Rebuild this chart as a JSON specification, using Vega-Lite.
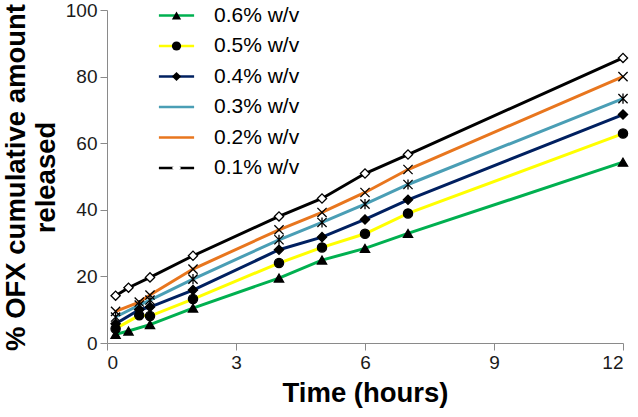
{
  "$schema": "https://vega.github.io/schema/vega-lite/v6.json",
  "width": 516,
  "height": 333,
  "autosize": "none",
  "padding": {"left": 107, "top": 10, "right": 15, "bottom": 74},
  "background": "white",
  "config": {
    "view": {"stroke": null},
    "font": "Liberation Sans",
    "axis": {"grid": false, "domainColor": "#8a8a8a", "tickColor": "#8a8a8a", "domainWidth": 1, "tickWidth": 1, "tickSize": 7, "labelFont": "Liberation Sans", "labelFontSize": 19, "labelColor": "#1a1a1a", "titleFont": "Liberation Sans", "titleFontSize": 27.5, "titleFontWeight": "bold", "titleColor": "#000000", "labelPadding": 3}
  },
  "data": {"values": [
    {"series": "0.6% w/v", "conc": 0.6, "time": 0.2, "release": 2.6},
    {"series": "0.6% w/v", "conc": 0.6, "time": 0.5, "release": 3.6},
    {"series": "0.6% w/v", "conc": 0.6, "time": 1, "release": 5.5},
    {"series": "0.6% w/v", "conc": 0.6, "time": 2, "release": 10.5},
    {"series": "0.6% w/v", "conc": 0.6, "time": 4, "release": 19.5},
    {"series": "0.6% w/v", "conc": 0.6, "time": 5, "release": 24.9},
    {"series": "0.6% w/v", "conc": 0.6, "time": 6, "release": 28.4},
    {"series": "0.6% w/v", "conc": 0.6, "time": 7, "release": 32.9},
    {"series": "0.6% w/v", "conc": 0.6, "time": 12, "release": 54.3},
    {"series": "0.5% w/v", "conc": 0.5, "time": 0.2, "release": 4.3},
    {"series": "0.5% w/v", "conc": 0.5, "time": 0.75, "release": 8.3},
    {"series": "0.5% w/v", "conc": 0.5, "time": 1, "release": 8.1},
    {"series": "0.5% w/v", "conc": 0.5, "time": 2, "release": 13.2},
    {"series": "0.5% w/v", "conc": 0.5, "time": 4, "release": 24},
    {"series": "0.5% w/v", "conc": 0.5, "time": 5, "release": 28.7},
    {"series": "0.5% w/v", "conc": 0.5, "time": 6, "release": 32.8},
    {"series": "0.5% w/v", "conc": 0.5, "time": 7, "release": 38.9},
    {"series": "0.5% w/v", "conc": 0.5, "time": 12, "release": 62.9},
    {"series": "0.4% w/v", "conc": 0.4, "time": 0.2, "release": 5.8},
    {"series": "0.4% w/v", "conc": 0.4, "time": 0.75, "release": 10},
    {"series": "0.4% w/v", "conc": 0.4, "time": 1, "release": 10.8},
    {"series": "0.4% w/v", "conc": 0.4, "time": 2, "release": 15.9},
    {"series": "0.4% w/v", "conc": 0.4, "time": 4, "release": 28},
    {"series": "0.4% w/v", "conc": 0.4, "time": 5, "release": 31.8},
    {"series": "0.4% w/v", "conc": 0.4, "time": 6, "release": 37.1},
    {"series": "0.4% w/v", "conc": 0.4, "time": 7, "release": 43},
    {"series": "0.4% w/v", "conc": 0.4, "time": 12, "release": 68.6},
    {"series": "0.3% w/v", "conc": 0.3, "time": 0.2, "release": 7.8},
    {"series": "0.3% w/v", "conc": 0.3, "time": 0.75, "release": 11.4},
    {"series": "0.3% w/v", "conc": 0.3, "time": 1, "release": 12.9},
    {"series": "0.3% w/v", "conc": 0.3, "time": 2, "release": 19.2},
    {"series": "0.3% w/v", "conc": 0.3, "time": 4, "release": 31},
    {"series": "0.3% w/v", "conc": 0.3, "time": 5, "release": 36.2},
    {"series": "0.3% w/v", "conc": 0.3, "time": 6, "release": 41.7},
    {"series": "0.3% w/v", "conc": 0.3, "time": 7, "release": 47.6},
    {"series": "0.3% w/v", "conc": 0.3, "time": 12, "release": 73.4},
    {"series": "0.2% w/v", "conc": 0.2, "time": 0.2, "release": 9.5},
    {"series": "0.2% w/v", "conc": 0.2, "time": 0.75, "release": 12.3},
    {"series": "0.2% w/v", "conc": 0.2, "time": 1, "release": 14.4},
    {"series": "0.2% w/v", "conc": 0.2, "time": 2, "release": 22.2},
    {"series": "0.2% w/v", "conc": 0.2, "time": 4, "release": 34},
    {"series": "0.2% w/v", "conc": 0.2, "time": 5, "release": 39.2},
    {"series": "0.2% w/v", "conc": 0.2, "time": 6, "release": 45.2},
    {"series": "0.2% w/v", "conc": 0.2, "time": 7, "release": 52.1},
    {"series": "0.2% w/v", "conc": 0.2, "time": 12, "release": 80},
    {"series": "0.1% w/v", "conc": 0.1, "time": 0.2, "release": 14.2},
    {"series": "0.1% w/v", "conc": 0.1, "time": 0.5, "release": 16.6},
    {"series": "0.1% w/v", "conc": 0.1, "time": 1, "release": 19.7},
    {"series": "0.1% w/v", "conc": 0.1, "time": 2, "release": 26.2},
    {"series": "0.1% w/v", "conc": 0.1, "time": 4, "release": 38},
    {"series": "0.1% w/v", "conc": 0.1, "time": 5, "release": 43.4},
    {"series": "0.1% w/v", "conc": 0.1, "time": 6, "release": 50.9},
    {"series": "0.1% w/v", "conc": 0.1, "time": 7, "release": 56.6},
    {"series": "0.1% w/v", "conc": 0.1, "time": 12, "release": 85.6}
  ]},
  "encoding": {
    "x": {"field": "time", "type": "quantitative", "scale": {"domain": [0, 12], "nice": false}, "axis": {"values": [0, 3, 6, 9, 12], "title": "Time (hours)", "titlePadding": 7}},
    "y": {"field": "release", "type": "quantitative", "scale": {"domain": [0, 100], "nice": false}, "axis": {"values": [0, 20, 40, 60, 80, 100], "title": ["% OFX cumulative amount", "released"], "titleAngle": -90, "titleAlign": "center", "titleBaseline": "top", "titleX": -105, "titleY": 167, "titleLineHeight": 30}}
  },
  "layer": [
    {
      "mark": {"type": "line", "strokeWidth": 3},
      "encoding": {
        "color": {"field": "series", "type": "nominal",
          "scale": {"domain": ["0.6% w/v", "0.5% w/v", "0.4% w/v", "0.3% w/v", "0.2% w/v", "0.1% w/v"], "range": ["#00b050", "#ffff00", "#002060", "#4a9eb5", "#e8761e", "#000000"]},
          "legend": {"title": null, "orient": "none", "legendX": 59, "legendY": -5, "symbolType": "M-4.4,0L4.4,0", "symbolSize": 64, "symbolStrokeWidth": 2.5, "labelFontSize": 21, "labelFont": "Liberation Sans", "labelColor": "#000000", "labelOffset": 27, "rowPadding": 8.5, "padding": 0}
        }
      }
    },
    {
      "mark": {"type": "point", "filled": true, "stroke": "#000000", "strokeWidth": 1.3, "size": 85, "opacity": 1},
      "encoding": {
        "shape": {"field": "conc", "type": "nominal",
          "scale": {"domain": [0.6, 0.5, 0.4, 0.3, 0.2, 0.1], "range": ["triangle-up", "circle", "diamond", "M-1,-1L1,1M-1,1L1,-1M0,-1.1L0,1.1", "M-1,-1L1,1M-1,1L1,-1", "diamond"]},
          "legend": {"title": null, "orient": "none", "legendX": 59, "legendY": -5, "symbolSize": 85, "symbolStrokeWidth": 1.3, "symbolStrokeColor": "#000000", "labelFontSize": 21, "labelFont": "Liberation Sans", "labelExpr": "' '", "labelOffset": 27, "rowPadding": 8.5, "padding": 0}
        },
        "fill": {"field": "conc", "type": "nominal",
          "scale": {"domain": [0.6, 0.5, 0.4, 0.3, 0.2, 0.1], "range": ["#000000", "#000000", "#000000", "transparent", "transparent", "#ffffff"]}
        }
      }
    }
  ]
}
